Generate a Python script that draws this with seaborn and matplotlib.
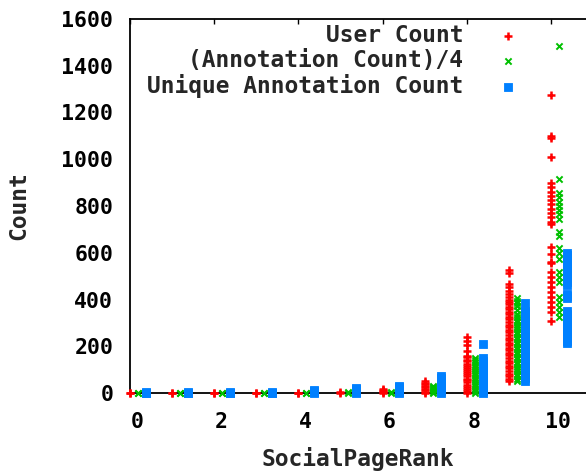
import numpy as np
import pandas as pd
import matplotlib
matplotlib.use("Agg")
import matplotlib.pyplot as plt
import seaborn as sns
from matplotlib import transforms

# ---------------- data ----------------
ranks = [0, 1, 2, 3, 4, 5, 6, 7, 8, 9, 10]

series_names = ["User Count", "(Annotation Count)/4", "Unique Annotation Count"]

user_count = [
    [0, 1],
    [0, 1],
    [0, 1],
    [0, 1],
    [0, 2],
    [0, 3],
    [0, 5, 10, 14, 19],
    [0, 6, 12, 18, 25, 31, 37, 44, 50],
    [0, 9, 18, 27, 35, 45, 54, 62, 72, 81, 89, 99, 108, 116, 126, 135, 143, 153, 160,
     181, 205, 224, 241],
    [51, 61, 73, 83, 95, 105, 117, 127, 139, 149, 161, 171, 183, 193, 205, 215, 227,
     237, 249, 259, 271, 281, 293, 303, 315, 325, 337, 347, 359, 369, 381, 391, 398,
     409, 423, 438, 452, 466, 512, 526],
    [309, 348, 369, 390, 412, 433, 455, 476, 498, 519, 555, 560, 594, 626, 723, 730,
     754, 771, 789, 807, 825, 843, 861, 880, 897, 1008, 1093, 1099, 1275],
]

annotation_count_div4 = [
    [0, 1],
    [0, 1],
    [0, 1],
    [0, 1],
    [0, 1],
    [0, 5],
    [0, 5],
    [0, 5, 11, 16, 21, 26, 31],
    [0, 9, 19, 28, 37, 47, 56, 65, 75, 84, 93, 103, 112, 121, 131, 140, 149],
    [51, 62, 71, 83, 92, 104, 113, 125, 134, 146, 155, 167, 176, 188, 197, 209, 218,
     230, 239, 251, 260, 272, 281, 293, 305, 313, 326, 340, 355, 372, 383, 395, 406],
    [326, 348, 369, 390, 412, 476, 498, 519, 572, 597, 619, 671, 690, 743, 764, 783,
     800, 818, 837, 854, 914, 1485],
]

unique_annotation_count = [
    [0, 2, 5],
    [0, 2, 5],
    [0, 2, 5],
    [0, 2, 5],
    [0, 4, 8, 13],
    [0, 6, 11, 17, 23],
    [0, 6, 12, 19, 25, 31],
    [0, 8, 17, 25, 33, 41, 50, 58, 66, 74],
    [0, 10, 19, 30, 39, 50, 59, 70, 79, 90, 99, 110, 119, 130, 139, 148, 210],
    [53, 63, 74, 84, 95, 105, 116, 126, 137, 147, 158, 168, 179, 189, 200, 210, 221,
     231, 242, 252, 263, 273, 284, 294, 305, 315, 326, 336, 345, 352, 386],
    [213, 223, 234, 244, 255, 265, 276, 286, 297, 307, 318, 328, 339, 352, 405, 414,
     423, 463, 473, 484, 494, 505, 515, 526, 536, 547, 557, 568, 578, 589, 600],
]

# ---------------- style ----------------
sns.set_style("white")
plt.rcParams["font.family"] = ["DejaVu Sans Mono", "DejaVu Sans"]
plt.rcParams["font.weight"] = "bold"
FS_TICK = 15.5
FS_TEXT = 16.5

fig = plt.figure(figsize=(5.86, 4.71), dpi=100)
ax = fig.add_axes([130 / 586, 78 / 471, 463 / 586, 374 / 471])

styles = [
    dict(marker="+", color="#ff0000", s=30, linewidth=1.8, off=0.0),
    dict(marker="x", color="#00c000", s=20, linewidth=1.4, off=0.19),
    dict(marker="s", color="#0080ff", s=26, linewidth=0.6, off=0.38),
]

for name, data, st in zip(series_names,
                          [user_count, annotation_count_div4, unique_annotation_count],
                          styles):
    rows = []
    for r, vals in zip(ranks, data):
        for v in vals:
            rows.append((r + st["off"], v))
    df = pd.DataFrame(rows, columns=["x", "y"])
    kw = dict(edgecolor=st["color"]) if st["marker"] == "s" else {}
    sns.scatterplot(data=df, x="x", y="y", marker=st["marker"], color=st["color"],
                    s=st["s"], linewidth=st["linewidth"], ax=ax, label=name,
                    clip_on=False, zorder=3, legend=False, **kw)

ax.set_xlim(0, 11)
ax.set_ylim(0, 1600)
ax.set_xticks([0, 2, 4, 6, 8, 10])
ax.set_yticks(np.arange(0, 1601, 200))
ax.tick_params(direction="in", length=3.6, width=1.0, top=True, right=True,
               labelsize=FS_TICK, colors="black")
ax.tick_params(axis="x", pad=14)
ax.tick_params(axis="y", pad=12)
for lab in ax.get_xticklabels():
    lab.set_transform(lab.get_transform() +
                      transforms.ScaledTranslation(7 / 100, 0, fig.dpi_scale_trans))
for sp in ax.spines.values():
    sp.set_color("black")
    sp.set_linewidth(1.3)

ax.set_xlabel("SocialPageRank", fontsize=FS_TEXT, fontweight="bold")
ax.set_ylabel("Count", fontsize=FS_TEXT, fontweight="bold")
ax.xaxis.set_label_coords((358 - 130) / 463, (393 - 459) / 374)
ax.xaxis.label.set_verticalalignment("center")
ax.yaxis.set_label_coords((18.5 - 130) / 463, 0.5)
ax.yaxis.label.set_verticalalignment("center")

handles, labels = ax.get_legend_handles_labels()
ax.legend(handles, labels, loc="upper right",
          bbox_to_anchor=(519.5 / 586, (471 - 24.3) / 471), bbox_transform=fig.transFigure,
          frameon=False, markerfirst=False, handlelength=1.0, handletextpad=1.465,
          borderpad=0, borderaxespad=0, labelspacing=0.085, scatterpoints=1,
          prop=dict(size=FS_TEXT, weight="bold"))

fig.savefig("out.png", dpi=100)
